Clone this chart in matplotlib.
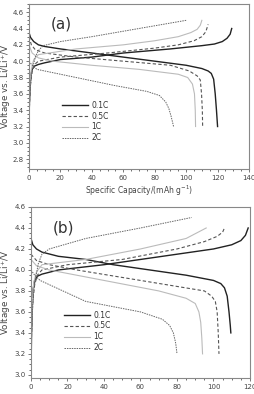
import numpy as np
import matplotlib.pyplot as plt

# panel (a): charge / discharge curves (capacity mAh/g, voltage V)
a_ch_01_x = [0, 0.3, 0.7, 1.2, 2, 3.5, 6, 10, 20, 40, 60, 90, 110, 118, 123, 126, 128, 129]
a_ch_01_y = [3.3, 3.5, 3.7, 3.83, 3.9, 3.94, 3.96, 3.98, 4.02, 4.05, 4.1, 4.15, 4.19, 4.21, 4.24, 4.28, 4.33, 4.4]
a_dis_01_x = [0, 1, 3, 6, 10, 20, 40, 60, 80, 100, 110, 114, 116, 117.5, 118.5, 119.3, 120]
a_dis_01_y = [4.35, 4.29, 4.24, 4.2, 4.18, 4.15, 4.1, 4.05, 4.0, 3.95, 3.91, 3.88, 3.85, 3.78, 3.6, 3.4, 3.2]
a_ch_05_x = [0, 0.5, 1, 2, 3.5, 6, 20, 50, 80, 95, 105, 110, 112.5, 114]
a_ch_05_y = [3.3, 3.55, 3.72, 3.88, 3.96, 4.0, 4.05, 4.1, 4.16, 4.2, 4.25, 4.3, 4.36, 4.45]
a_dis_05_x = [0, 1.5, 4, 10, 30, 60, 90, 102, 107, 109, 109.8, 110.3, 110.5]
a_dis_05_y = [4.3, 4.2, 4.14, 4.1, 4.05, 4.0, 3.95, 3.88, 3.82, 3.77, 3.6, 3.4, 3.2]
a_ch_1_x = [0, 0.7, 1.5, 3, 6, 30, 60, 80, 95, 103, 107, 109, 110]
a_ch_1_y = [3.5, 3.75, 3.9, 4.02, 4.08, 4.15, 4.2, 4.25, 4.3, 4.35, 4.39, 4.44, 4.5]
a_dis_1_x = [0, 2, 6, 15, 40, 70, 95, 101, 104, 105.3, 105.8, 106]
a_dis_1_y = [4.2, 4.1, 4.04, 4.0, 3.95, 3.9, 3.84, 3.8, 3.72, 3.6, 3.4, 3.2]
a_ch_2_x = [0, 0.7, 1.5, 2.5, 4, 6, 9, 20, 40, 70, 100]
a_ch_2_y = [3.4, 3.65, 3.82, 3.93, 4.05, 4.13, 4.19, 4.24, 4.3, 4.4, 4.5]
a_dis_2_x = [0, 2, 5, 30, 55, 75, 83, 87, 89, 90.5, 92]
a_dis_2_y = [4.0, 3.95, 3.9, 3.8, 3.7, 3.63, 3.58, 3.5, 3.42, 3.32, 3.2]

# panel (b)
b_ch_01_x = [0, 0.3, 0.7, 1.2, 2, 3.5, 6, 15, 40, 60, 80, 100, 110, 115, 117.5, 119]
b_ch_01_y = [3.0, 3.4, 3.65, 3.82, 3.9, 3.94, 3.96, 4.0, 4.05, 4.1, 4.15, 4.2, 4.24, 4.28, 4.33, 4.4]
b_dis_01_x = [0, 1, 3, 6, 15, 30, 45, 65, 85, 100, 104, 106, 107.5, 108.5, 109.2, 109.5]
b_dis_01_y = [4.3, 4.24, 4.2, 4.17, 4.13, 4.1, 4.05, 4.0, 3.95, 3.9, 3.87, 3.83, 3.75, 3.6, 3.47, 3.4]
b_ch_05_x = [0, 0.5, 1, 2, 3.5, 6, 20, 50, 80, 95, 102, 105, 106]
b_ch_05_y = [3.2, 3.5, 3.7, 3.86, 3.95, 4.0, 4.05, 4.1, 4.2, 4.27, 4.32, 4.36, 4.4]
b_dis_05_x = [0, 3, 10, 25, 60, 95, 99, 101, 102, 102.6, 103]
b_dis_05_y = [4.15, 4.09, 4.05, 4.0, 3.9, 3.8, 3.75, 3.7, 3.6, 3.4, 3.2]
b_ch_1_x = [0, 0.7, 1.5, 3, 6, 30, 60, 85, 96]
b_ch_1_y = [3.3, 3.7, 3.88, 3.98, 4.05, 4.1, 4.2, 4.3, 4.4]
b_dis_1_x = [0, 3, 10, 40, 70, 85, 90, 92, 93, 93.6, 94]
b_dis_1_y = [4.1, 4.04, 4.0, 3.9, 3.8, 3.73, 3.68, 3.6, 3.5, 3.35, 3.2]
b_ch_2_x = [0, 0.7, 1.5, 2.5, 4, 6, 10, 30, 60, 88]
b_ch_2_y = [3.2, 3.6, 3.8, 3.92, 4.06, 4.15, 4.2, 4.3, 4.4, 4.5]
b_dis_2_x = [0, 2, 5, 30, 60, 72, 76, 78, 79.3, 80]
b_dis_2_y = [4.0, 3.95, 3.9, 3.7, 3.6, 3.53, 3.47, 3.4, 3.3, 3.2]

labels = ['0.1C', '0.5C', '1C', '2C']
styles = [dict(color='#222222', ls='-', lw=1.0),
          dict(color='#555555', ls=(0, (3, 2)), lw=0.8),
          dict(color='#bbbbbb', ls='-', lw=0.8),
          dict(color='#666666', ls=(0, (1.5, 1)), lw=0.7)]

fig = plt.figure(figsize=(2.55, 3.94), dpi=100)
ax1 = fig.add_axes([29/255, 1 - 169/394, 220/255, 165/394])
ax2 = fig.add_axes([31/255, 1 - 378/394, 219/255, 171/394])

panels = [
    (ax1, [(a_ch_01_x, a_ch_01_y, a_dis_01_x, a_dis_01_y),
           (a_ch_05_x, a_ch_05_y, a_dis_05_x, a_dis_05_y),
           (a_ch_1_x, a_ch_1_y, a_dis_1_x, a_dis_1_y),
           (a_ch_2_x, a_ch_2_y, a_dis_2_x, a_dis_2_y)],
     '(a)', (0, 140), (2.68, 4.70), np.arange(2.8, 4.61, 0.2), np.arange(0, 141, 20), 0.12, 86),
    (ax2, [(b_ch_01_x, b_ch_01_y, b_dis_01_x, b_dis_01_y),
           (b_ch_05_x, b_ch_05_y, b_dis_05_x, b_dis_05_y),
           (b_ch_1_x, b_ch_1_y, b_dis_1_x, b_dis_1_y),
           (b_ch_2_x, b_ch_2_y, b_dis_2_x, b_dis_2_y)],
     '(b)', (0, 120), (2.97, 4.6), np.arange(3.0, 4.61, 0.2), np.arange(0, 121, 20), 0.11, 292),
]

for ax, curves, tag, xl, yl, yt, xt, ly, ypix in panels:
    for (cx, cy, dx, dy), lab, st in zip(curves, labels, styles):
        ax.plot(cx, cy, label=lab, **st)
        ax.plot(dx, dy, **st)
    ax.set_xlim(*xl)
    ax.set_ylim(*yl)
    ax.set_yticks(yt)
    ax.set_yticklabels([f'{v:.1f}' for v in yt])
    ax.set_xticks(xt)
    ax.minorticks_on()
    ax.tick_params(labelsize=5, length=2.5, width=0.5, pad=1.5, colors='#444444')
    ax.tick_params(which='minor', length=1.5, width=0.4)
    for s in ax.spines.values():
        s.set_color('#888888')
        s.set_linewidth(0.8)
    ax.text(0.1, 0.85, tag, transform=ax.transAxes, fontsize=11, color='#333333')
    fig.text(6/255, 1 - ypix/394, 'Voltage vs. Li/Li$^{+}$/V', rotation=90,
             ha='center', va='center', fontsize=6.3, color='#444444')
    ax.set_xlabel('Specific Capacity/(mAh g$^{-1}$)', fontsize=5.5, labelpad=2, color='#444444')
    ax.legend(loc='lower left', bbox_to_anchor=(0.12, ly), frameon=False, fontsize=5.5,
              handlelength=3.4, handletextpad=0.4, labelspacing=0.25, labelcolor='#333333')

fig.savefig('out.png', dpi=100)
